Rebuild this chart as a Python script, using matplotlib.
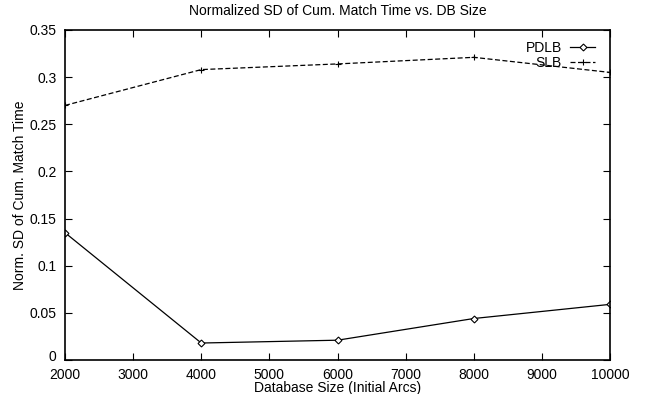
import matplotlib
matplotlib.use('Agg')
import matplotlib.pyplot as plt
import matplotlib.transforms as mtransforms

plt.rcParams['font.family'] = ['Liberation Sans', 'DejaVu Sans']

db_size = [2000, 4000, 6000, 8000, 10000]
pdlb = [0.135, 0.018, 0.021, 0.044, 0.059]
slb = [0.270, 0.308, 0.314, 0.321, 0.305]

x_ticks = [2000, 3000, 4000, 5000, 6000, 7000, 8000, 9000, 10000]
y_ticks = [0, 0.05, 0.1, 0.15, 0.2, 0.25, 0.3, 0.35]
y_labels = ['0', '0.05', '0.1', '0.15', '0.2', '0.25', '0.3', '0.35']

fig = plt.figure(figsize=(6.45, 3.94), dpi=100)
ax = fig.add_axes([0.1008, 0.0863, 0.845, 0.8376])

ax.plot(db_size, pdlb, color='black', lw=0.9, marker='D', markersize=3.5,
        markerfacecolor='white', markeredgewidth=0.8, label='PDLB')
ax.plot(db_size, slb, color='black', lw=0.9, ls=(0, (4, 2)), marker='+',
        markersize=5, markeredgewidth=0.8, label='SLB')

ax.set_xlim(2000, 10000)
ax.set_ylim(0, 0.35)
ax.set_xticks(x_ticks)
ax.set_yticks(y_ticks)
ax.set_yticklabels(y_labels)
ax.tick_params(direction='in', top=True, right=True, length=5, width=0.8,
               labelsize=10)
ax.tick_params(axis='x', pad=6)
ax.tick_params(axis='y', pad=6)
for s in ax.spines.values():
    s.set_linewidth(1.2)

# nudge the "0" label up a little so it clears "2000"
lab0 = ax.get_yticklabels()[0]
lab0.set_transform(lab0.get_transform() +
                   mtransforms.ScaledTranslation(0, 3 / 72, fig.dpi_scale_trans))

ax.set_title('Normalized SD of Cum. Match Time vs. DB Size', fontsize=10, pad=11)
ax.set_xlabel('Database Size (Initial Arcs)', fontsize=10, labelpad=-1)
ax.set_ylabel('Norm. SD of Cum. Match Time', fontsize=10, labelpad=2)

ax.legend(loc='upper right', frameon=False, markerfirst=False, fontsize=10,
          handlelength=1.8, handletextpad=0.6, borderpad=0, borderaxespad=0,
          labelspacing=0.05, bbox_to_anchor=(0.9725, 0.967))

fig.savefig('out.png', dpi=100)
